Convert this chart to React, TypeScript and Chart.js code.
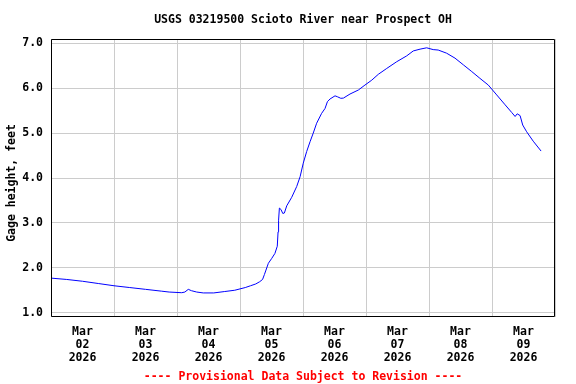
import React, { useEffect, useRef } from 'react';
import { Chart, registerables } from 'chart.js';

Chart.register(...registerables);

const TITLE = 'USGS 03219500 Scioto River near Prospect OH';
const Y_LABEL = 'Gage height, feet';
const FOOTER = '---- Provisional Data Subject to Revision ----';
const MONTH = 'Mar';
const YEAR = '2026';
const DAY_LABELS = ['02', '03', '04', '05', '06', '07', '08', '09'];
const Y_TICKS = [1, 2, 3, 4, 5, 6, 7];

// hours since Mar 02 2026 00:00
const HOURS = [
  0, 6, 12, 18, 24, 30, 36, 42, 45, 49.8, 51, 52.3, 53.5, 55.5, 58, 62, 66, 70, 72, 74, 76, 78, 79.5,
  80.6, 81.3, 81.9, 82.8, 84.1, 85.3, 86.2, 86.5, 86.7, 87.0, 87.6, 88.3, 88.9, 89.8, 91.7, 93.6,
  94.9, 96.1, 97.4, 98.7, 99.9, 101.2, 103.1, 104.4, 105.3, 106.3, 108.2, 109.1, 110.4, 111.4, 113.9,
  117.1, 119.6, 122.2, 124.7, 127.9, 131.7, 135.5, 138, 140.6, 143.1, 145.6, 147.5, 150.7, 153.9,
  157.1, 160.3, 163.4, 166.6, 169.8, 173, 175.5, 176.8, 177.6, 178.7, 179.7, 181.2, 183.7, 186.7,
];

const GAGE = [
  1.77, 1.74, 1.7, 1.65, 1.6, 1.56, 1.52, 1.48, 1.46, 1.445, 1.46, 1.52, 1.49, 1.46, 1.44, 1.44, 1.47,
  1.5, 1.53, 1.56, 1.6, 1.64, 1.69, 1.74, 1.85, 1.95, 2.1, 2.21, 2.32, 2.48, 2.8, 3.06, 3.33, 3.3, 3.21,
  3.22, 3.38, 3.57, 3.81, 4.03, 4.33, 4.59, 4.81, 5.0, 5.22, 5.44, 5.55, 5.7, 5.76, 5.83, 5.81, 5.775,
  5.78, 5.87, 5.96, 6.07, 6.18, 6.31, 6.44, 6.59, 6.72, 6.83, 6.87, 6.9, 6.86, 6.85, 6.78, 6.67, 6.52,
  6.37, 6.22, 6.07, 5.85, 5.63, 5.46, 5.37, 5.43, 5.39, 5.18, 5.03, 4.82, 4.6,
];

const FONT_FAMILY = '"DejaVu Sans Mono", monospace';

export default function App() {
  const canvasRef = useRef<HTMLCanvasElement | null>(null);

  useEffect(() => {
    const canvas = canvasRef.current;
    if (!canvas) return;

    const textPlugin = {
      id: 'usgsText',
      afterDraw(chart: any) {
        const ctx = chart.ctx;
        const area = chart.chartArea;
        const l = Math.round(area.left) + 0.5;
        const r = Math.round(area.right) - 0.5;
        const t = Math.round(area.top) + 0.5;
        const b = Math.round(area.bottom) - 0.5;
        ctx.save();
        // frame
        ctx.strokeStyle = '#000000';
        ctx.lineWidth = 1;
        ctx.beginPath();
        ctx.moveTo(l, t);
        ctx.lineTo(r, t);
        ctx.lineTo(r, b);
        ctx.lineTo(l, b);
        ctx.closePath();
        ctx.stroke();
        ctx.font = `bold 11.5px ${FONT_FAMILY}`;
        ctx.textAlign = 'center';
        ctx.textBaseline = 'middle';
        ctx.fillStyle = '#000000';
        const cx = (area.left + area.right) / 2;
        ctx.fillText(TITLE, cx, 20.5);
        ctx.fillStyle = '#ff0000';
        ctx.fillText(FOOTER, cx, 377);
        ctx.fillStyle = '#000000';
        ctx.translate(12, 183);
        ctx.rotate(-Math.PI / 2);
        ctx.fillText(Y_LABEL, 0, 0);
        ctx.restore();
      },
    };

    const chart = new Chart(canvas, {
      type: 'line',
      data: {
        datasets: [
          {
            data: HOURS.map((h, i) => ({ x: h, y: GAGE[i] })),
            borderColor: '#0000ff',
            borderWidth: 1,
            pointRadius: 0,
            tension: 0,
            fill: false,
          },
        ],
      },
      options: {
        animation: false,
        responsive: false,
        devicePixelRatio: 1,
        layout: { padding: { left: 0, right: 21, top: 39, bottom: 0 } },
        plugins: {
          legend: { display: false },
          title: { display: false },
          tooltip: { enabled: false },
        },
        scales: {
          x: {
            type: 'linear',
            min: 0,
            max: 192,
            afterBuildTicks: (scale: any) => {
              const t = [];
              for (let v = 0; v <= 192; v += 12) t.push({ value: v });
              scale.ticks = t;
            },
            afterFit: (scale: any) => {
              scale.height = 67;
            },
            ticks: {
              autoSkip: false,
              maxRotation: 0,
              minRotation: 0,
              padding: 9,
              color: '#000000',
              font: { family: FONT_FAMILY, weight: 'bold', size: 11.5, lineHeight: 1.13 },
              callback: (value: any) => {
                const v = Number(value);
                if (v % 24 === 12) {
                  const idx = (v - 12) / 24;
                  return [MONTH, DAY_LABELS[idx], YEAR];
                }
                return '';
              },
            },
            grid: {
              drawTicks: false,
              lineWidth: 1,
              color: (ctx: any) =>
                ctx.tick && ctx.tick.value % 24 === 0 ? '#cccccc' : 'rgba(0,0,0,0)',
            },
            border: { display: false },
          },
          y: {
            type: 'linear',
            min: 0.904,
            max: 7.096,
            afterBuildTicks: (scale: any) => {
              scale.ticks = Y_TICKS.map((v) => ({ value: v }));
            },
            afterFit: (scale: any) => {
              scale.width = 51;
            },
            ticks: {
              padding: 8,
              color: '#000000',
              font: { family: FONT_FAMILY, weight: 'bold', size: 11.5 },
              callback: (value: any) => Number(value).toFixed(1),
            },
            grid: { drawTicks: false, color: '#cccccc', lineWidth: 1 },
            border: { display: false },
          },
        },
      },
      plugins: [textPlugin],
    } as any);

    return () => {
      chart.destroy();
    };
  }, []);

  return (
    <div style={{ position: 'absolute', left: 0, top: 0, width: 576, height: 384, background: '#ffffff' }}>
      <canvas ref={canvasRef} width={576} height={384} />
    </div>
  );
}
